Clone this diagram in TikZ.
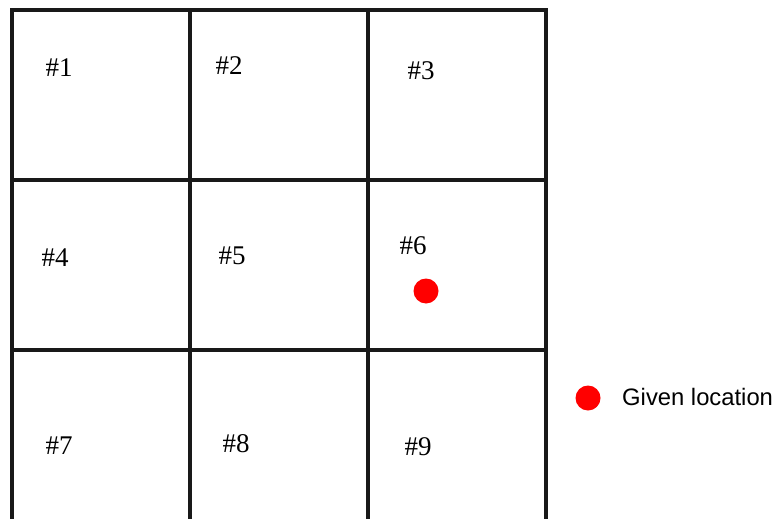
\documentclass[tikz,border=0pt]{standalone}
\usepackage{fontspec}
\setmainfont{Liberation Serif}
\newfontfamily\legendfont{Liberation Sans}
\usepackage{xcolor}
\usepackage{tikz}
\definecolor{locred}{HTML}{FF0000}
\tikzset{
  cellno/.style={font=\fontsize{27}{29}\selectfont,inner sep=0pt},
  legtext/.style={font=\legendfont\fontsize{23.8}{26}\selectfont,inner sep=0pt,anchor=west},
  gridline/.style={line width=3.2pt,black!90},
  locdot/.style={fill=locred,draw=none}
}
\newcommand{\cellgrid}{%
  \draw[gridline] (12,519) -- (12,10) -- (546,10) -- (546,519);
  \draw[gridline] (190,10) -- (190,519);
  \draw[gridline] (368,10) -- (368,519);
  \draw[gridline] (12,180) -- (546,180);
  \draw[gridline] (12,350) -- (546,350);
}
\begin{document}
\begin{tikzpicture}[x=1pt,y=-1pt]
\useasboundingbox (0,0) rectangle (776,519);
\cellgrid
\node[cellno] (c1) at (59,68) {\#1};
\node[cellno] (c2) at (229,66) {\#2};
\node[cellno] (c3) at (421,71) {\#3};
\node[cellno] (c4) at (55,258) {\#4};
\node[cellno] (c5) at (232,256) {\#5};
\node[cellno] (c6) at (413,246) {\#6};
\node[cellno] (c7) at (59,446) {\#7};
\node[cellno] (c8) at (236,444) {\#8};
\node[cellno] (c9) at (418,447) {\#9};
% the given point
\fill[locdot] (426,291) circle (12.5);
% legend
\fill[locdot] (588,398) circle (12.5);
\node[legtext] (leg) at (622,397) {Given location};
\end{tikzpicture}
\end{document}
